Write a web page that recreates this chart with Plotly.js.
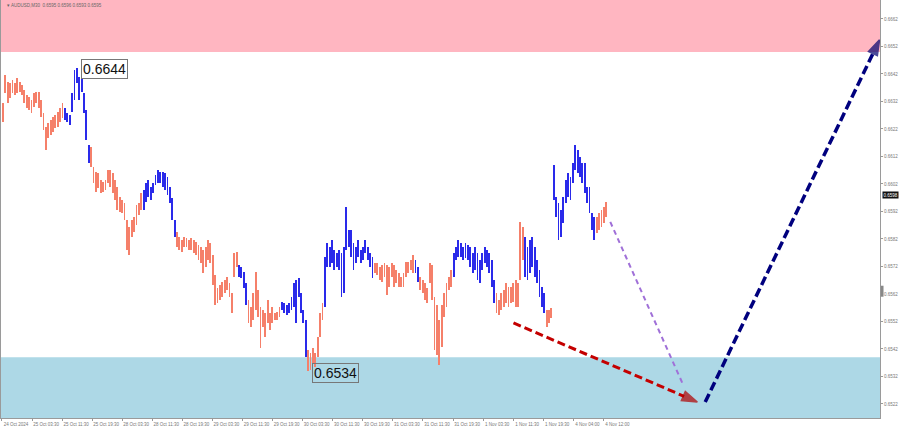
<!DOCTYPE html>
<html>
<head>
<meta charset="utf-8">
<script src="https://cdn.plot.ly/plotly-3.0.1.min.js"></script>
<style>html,body{margin:0;padding:0;background:#fff;}#chart{width:900px;height:430px;}</style>
</head>
<body>
<div id="chart"></div>
<script>
// ---- data (AUDUSD M30) ----
const HI = [
0.66314,0.66416,0.66391,0.66387,0.66398,0.66387,0.66405,0.66391,0.66380,0.66362,
0.66343,0.66336,0.66325,0.66351,0.66354,0.66354,0.66325,0.66278,0.66227,0.66242,
0.66253,0.66263,0.66271,0.66282,0.66296,0.66314,0.66296,0.66278,0.66271,0.66351,
0.66434,0.66440,0.66409,0.66405,0.66351,0.66289,0.66162,0.66154,0.66082,0.66063,
0.66060,0.66034,0.66027,0.66034,0.66071,0.66071,0.66060,0.66034,0.66009,0.65973,
0.65962,0.65951,0.65889,0.65863,0.65889,0.65900,0.65943,0.65951,0.65987,0.65998,
0.66024,0.66034,0.66009,0.66024,0.66053,0.66071,0.66063,0.66063,0.66060,0.66045,
0.66009,0.65969,0.65889,0.65845,0.65827,0.65816,0.65827,0.65824,0.65816,0.65824,
0.65816,0.65809,0.65798,0.65791,0.65780,0.65791,0.65816,0.65805,0.65762,0.65689,
0.65642,0.65653,0.65663,0.65671,0.65682,0.65660,0.65624,0.65769,0.65773,0.65725,
0.65718,0.65700,0.65660,0.65598,0.65573,0.65624,0.65700,0.65634,0.65573,0.65562,
0.65551,0.65598,0.65551,0.65573,0.65551,0.65555,0.65573,0.65591,0.65587,0.65580,
0.65587,0.65609,0.65660,0.65671,0.65678,0.65624,0.65562,0.65525,0.65416,0.65405,
0.65424,0.65405,0.65463,0.65551,0.65587,0.65754,0.65805,0.65791,0.65816,0.65780,
0.65769,0.65780,0.65769,0.65791,0.65936,0.65853,0.65853,0.65805,0.65791,0.65816,
0.65780,0.65791,0.65816,0.65791,0.65769,0.65754,0.65733,0.65733,0.65718,0.65725,
0.65733,0.65725,0.65718,0.65733,0.65725,0.65707,0.65696,0.65682,0.65696,0.65736,
0.65736,0.65744,0.65762,0.65744,0.65718,0.65682,0.65671,0.65660,0.65642,0.65733,
0.65725,0.65609,0.65580,0.65525,0.65580,0.65624,0.65660,0.65682,0.65707,0.65769,
0.65791,0.65816,0.65805,0.65791,0.65805,0.65798,0.65791,0.65769,0.65791,0.65769,
0.65744,0.65769,0.65791,0.65780,0.65769,0.65744,0.65671,0.65624,0.65598,0.65624,
0.65634,0.65660,0.65645,0.65645,0.65660,0.65671,0.65660,0.65882,0.65863,0.65827,
0.65791,0.65816,0.65827,0.65791,0.65744,0.65707,0.65645,0.65624,0.65562,0.65562,
0.65569,0.66089,0.65973,0.65951,0.65925,0.65973,0.66034,0.66060,0.66045,0.66096,
0.66162,0.66143,0.66118,0.66096,0.66096,0.66009,0.66009,0.65914,0.65900,0.65900,
0.65914,0.65925,0.65936,0.65954
];
const LO = [
0.66245,0.66351,0.66314,0.66333,0.66351,0.66343,0.66351,0.66354,0.66343,0.66314,
0.66296,0.66289,0.66278,0.66300,0.66314,0.66296,0.66263,0.66216,0.66143,0.66187,
0.66198,0.66209,0.66224,0.66227,0.66245,0.66260,0.66253,0.66245,0.66234,0.66282,
0.66325,0.66387,0.66325,0.66354,0.66278,0.66180,0.66096,0.66082,0.66024,0.65991,
0.66005,0.65987,0.65991,0.65998,0.66024,0.66009,0.65987,0.65962,0.65925,0.65918,
0.65914,0.65889,0.65780,0.65762,0.65827,0.65845,0.65871,0.65907,0.65925,0.65925,
0.65954,0.65973,0.65962,0.65987,0.66016,0.66024,0.66024,0.66009,0.65998,0.65980,
0.65951,0.65889,0.65827,0.65791,0.65780,0.65773,0.65791,0.65791,0.65780,0.65780,
0.65769,0.65762,0.65744,0.65733,0.65696,0.65718,0.65744,0.65733,0.65653,0.65580,
0.65587,0.65598,0.65609,0.65624,0.65634,0.65609,0.65551,0.65682,0.65718,0.65682,
0.65678,0.65642,0.65580,0.65515,0.65500,0.65525,0.65562,0.65536,0.65424,0.65500,
0.65463,0.65515,0.65489,0.65515,0.65525,0.65525,0.65536,0.65562,0.65551,0.65544,
0.65551,0.65562,0.65573,0.65515,0.65609,0.65551,0.65515,0.65391,0.65340,0.65344,
0.65369,0.65355,0.65391,0.65463,0.65525,0.65573,0.65718,0.65718,0.65733,0.65707,
0.65718,0.65707,0.65609,0.65624,0.65780,0.65791,0.65754,0.65707,0.65733,0.65754,
0.65733,0.65744,0.65769,0.65744,0.65718,0.65678,0.65696,0.65689,0.65671,0.65663,
0.65682,0.65616,0.65645,0.65682,0.65645,0.65660,0.65645,0.65645,0.65645,0.65682,
0.65696,0.65707,0.65696,0.65696,0.65663,0.65634,0.65624,0.65598,0.65587,0.65660,
0.65598,0.65416,0.65398,0.65362,0.65427,0.65536,0.65573,0.65634,0.65645,0.65682,
0.65744,0.65754,0.65754,0.65744,0.65751,0.65744,0.65718,0.65696,0.65707,0.65671,
0.65660,0.65707,0.65733,0.65718,0.65696,0.65645,0.65587,0.65551,0.65544,0.65562,
0.65573,0.65587,0.65573,0.65587,0.65591,0.65573,0.65573,0.65671,0.65744,0.65682,
0.65671,0.65696,0.65718,0.65682,0.65660,0.65609,0.65573,0.65551,0.65500,0.65515,
0.65533,0.65962,0.65900,0.65816,0.65827,0.65878,0.65951,0.65973,0.65962,0.66024,
0.66071,0.66060,0.66045,0.66024,0.65987,0.65951,0.65914,0.65853,0.65816,0.65842,
0.65853,0.65863,0.65878,0.65900
];
// wave colouring: runs of [wave type, number of bars]
const WAVE_RUNS = [['S',26],['B',11],['S',22],['B',14],['S',26],['B',4],['S',14],['B',11],['S',7],['B',21],
                   ['S',17],['B',2],['S',14],['B',18],['S',12],['B',9],['S',3],['B',18],['S',5]];
const TIME_LABELS = ["24 Oct 2024","25 Oct 03:30","25 Oct 11:30","25 Oct 19:30","28 Oct 03:30","28 Oct 11:30",
  "28 Oct 19:30","29 Oct 03:30","29 Oct 11:30","29 Oct 19:30","30 Oct 03:30","30 Oct 11:30","30 Oct 19:30",
  "31 Oct 03:30","31 Oct 11:30","31 Oct 19:30","1 Nov 03:30","1 Nov 11:30","1 Nov 19:30","4 Nov 04:00","4 Nov 12:00"];
const PRICE_TICKS = [0.6522,0.6532,0.6542,0.6552,0.6562,0.6572,0.6582,0.6592,0.6602,0.6612,0.6622,0.6632,0.6642,0.6652,0.6662];
const TARGET_ZONE_LOW = 0.6650;    // pink zone lower edge
const SUPPORT_ZONE_HIGH = 0.6539;  // blue zone upper edge
const LAST_PRICE = 0.6598;
const HEADER = "▾ AUDUSD,M30  0.6595 0.6596 0.6593 0.6595";
// forecast drawing points [bar index, price]
const RED_PATH_X = [214.1, 291.2],   RED_PATH_Y = [0.65515, 0.65227];
const PURPLE_PATH_X = [254.7, 285.3], PURPLE_PATH_Y = [0.65882, 0.65289];
const BLUE_PATH_X = [294.5, 367.6],  BLUE_PATH_Y = [0.65227, 0.66544];

// ---- build ----
const SALMON = '#F5806A', BLUE = '#2A2AEA';
const idx = HI.map((_, i) => i);
const colors = [];
WAVE_RUNS.forEach(([w, n]) => { for (let k = 0; k < n; k++) colors.push(w === 'S' ? SALMON : BLUE); });
const X_RANGE = [-0.8, 367.8];
const Y_RANGE = [0.65169, 0.66689];
const BARS_PER_LABEL = 12.61;
const tickvals = TIME_LABELS.map((_, k) => k * BARS_PER_LABEL - 0.4);

let iMax = 0, iMin = 0;
HI.forEach((v, i) => { if (v > HI[iMax]) iMax = i; });
LO.forEach((v, i) => { if (v < LO[iMin]) iMin = i; });

const traces = [
  { type: 'bar', x: idx, base: LO, y: HI.map((h, i) => h - LO[i]), width: 0.78,
    marker: { color: colors, line: { width: 0 } }, hoverinfo: 'skip', showlegend: false },
  { type: 'scatter', mode: 'lines', x: PURPLE_PATH_X, y: PURPLE_PATH_Y,
    line: { color: '#A070D8', width: 2, dash: '5px,4px' }, hoverinfo: 'skip', showlegend: false },
  { type: 'scatter', mode: 'lines+markers', x: RED_PATH_X, y: RED_PATH_Y, cliponaxis: false,
    line: { color: '#C40000', width: 3, dash: '8px,4px' },
    marker: { symbol: 'arrow', size: [0, 16], angleref: 'previous', color: '#B00000',
              line: { color: '#B00000', width: 1.5 } },
    hoverinfo: 'skip', showlegend: false },
  { type: 'scatter', mode: 'lines+markers', x: BLUE_PATH_X, y: BLUE_PATH_Y, cliponaxis: false,
    line: { color: '#00007E', width: 3.5, dash: '9px,4px' },
    marker: { symbol: 'arrow', size: [0, 16], angleref: 'previous', color: '#00006E',
              line: { color: '#00006E', width: 1.5 } },
    hoverinfo: 'skip', showlegend: false }
];

const layout = {
  width: 900, height: 430,
  margin: { l: 1, r: 20, t: 0, b: 12, pad: 0 },
  paper_bgcolor: '#ffffff', plot_bgcolor: '#ffffff',
  font: { family: 'Liberation Sans, Arial, sans-serif' },
  showlegend: false, bargap: 0,
  xaxis: { range: X_RANGE, tickvals: tickvals, ticktext: TIME_LABELS, tickangle: 0,
    tickfont: { size: 4.5, color: '#777' }, ticks: 'outside', ticklen: 2, tickcolor: '#999',
    ticklabelshift: 14, ticklabelstandoff: 0,
    showgrid: false, zeroline: false, showline: true, linecolor: '#9a9a9a', linewidth: 1, fixedrange: true },
  yaxis: { range: Y_RANGE, side: 'right', tickvals: PRICE_TICKS, tickformat: '.4f',
    tickfont: { size: 4.5, color: '#777' }, ticks: 'outside', ticklen: 2, tickcolor: '#999',
    showgrid: false, zeroline: false, showline: true, mirror: true, linecolor: '#9a9a9a', linewidth: 1, fixedrange: true },
  shapes: [
    { type: 'rect', xref: 'paper', x0: 0, x1: 1, yref: 'y', y0: TARGET_ZONE_LOW, y1: 0.6675,
      fillcolor: '#FFB6C1', line: { width: 0 }, layer: 'below' },
    { type: 'rect', xref: 'paper', x0: 0, x1: 1, yref: 'y', y0: 0.6510, y1: SUPPORT_ZONE_HIGH,
      fillcolor: '#ADD8E6', line: { width: 0 }, layer: 'below' },
    { type: 'rect', xref: 'paper', x0: 1.001, x1: 1.004, yref: 'y', y0: 0.6561, y1: 0.6565,
      fillcolor: '#888', line: { width: 0 } }
  ],
  annotations: [
    { x: iMax, y: HI[iMax], xref: 'x', yref: 'y', text: HI[iMax].toFixed(4), showarrow: false,
      xanchor: 'left', yanchor: 'middle', xshift: 4, yshift: -1,
      font: { size: 14, color: '#111', family: 'Liberation Sans, Arial' },
      bgcolor: '#ffffff', bordercolor: '#777', borderwidth: 1, borderpad: 1 },
    { x: iMin, y: LO[iMin], xref: 'x', yref: 'y', text: LO[iMin].toFixed(4), showarrow: false,
      xanchor: 'left', yanchor: 'middle', xshift: 4, yshift: -2,
      font: { size: 14, color: '#111', family: 'Liberation Sans, Arial' },
      bgcolor: 'rgba(0,0,0,0)', bordercolor: '#777', borderwidth: 1, borderpad: 1 },
    { x: 0.004, y: 0.997, xref: 'paper', yref: 'paper', text: HEADER, showarrow: false,
      xanchor: 'left', yanchor: 'top', font: { size: 4.5, color: '#666' } },
    { x: 1.002, y: LAST_PRICE, xref: 'paper', yref: 'y', text: LAST_PRICE.toFixed(4), showarrow: false,
      xanchor: 'left', yanchor: 'middle', font: { size: 4.5, color: '#fff' }, bgcolor: '#111', borderpad: 0.5 }
  ]
};

Plotly.newPlot('chart', traces, layout, { displayModeBar: false, staticPlot: true });
</script>
</body>
</html>
